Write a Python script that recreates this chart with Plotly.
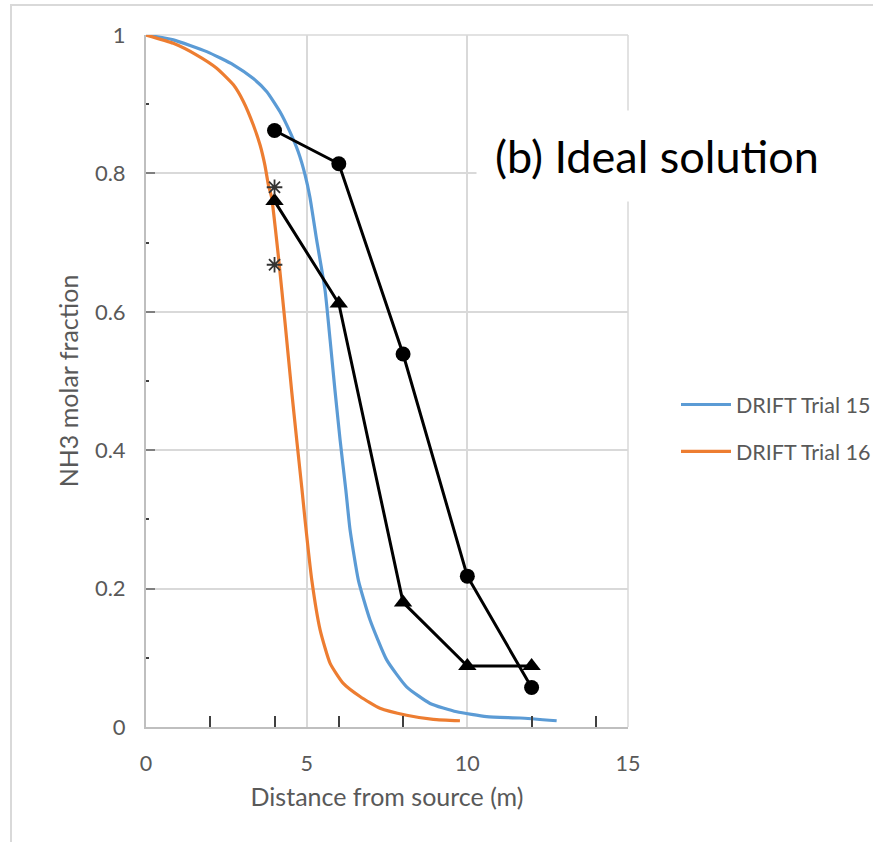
import plotly.graph_objects as go

# DRIFT model profiles (distance in m, NH3 molar fraction)
dist_15 = [0, 0.85, 1.89, 2.72, 3.34, 3.76, 4.17, 4.48, 4.74, 4.95, 5.10, 5.31, 5.57, 5.73,
           5.88, 6.04, 6.22, 6.35, 6.61, 6.97, 7.49, 8.11, 8.84, 9.67, 10.6, 11.64, 12.78]
frac_15 = [1.0, 0.993, 0.976, 0.957, 0.937, 0.918, 0.889, 0.860, 0.831, 0.798, 0.766, 0.704,
           0.632, 0.559, 0.487, 0.415, 0.342, 0.285, 0.212, 0.155, 0.097, 0.058, 0.034,
           0.022, 0.015, 0.013, 0.009]

dist_16 = [0, 0.85, 1.58, 2.20, 2.72, 3.03, 3.34, 3.55, 3.70, 3.81, 3.91, 4.12, 4.33, 4.53,
           4.69, 4.85, 4.95, 5.16, 5.42, 5.73, 6.14, 6.66, 7.28, 8.11, 8.94, 9.77]
frac_16 = [1.0, 0.988, 0.971, 0.952, 0.928, 0.904, 0.870, 0.841, 0.812, 0.783, 0.765, 0.680,
           0.583, 0.487, 0.415, 0.345, 0.299, 0.212, 0.140, 0.092, 0.063, 0.044, 0.027,
           0.017, 0.011, 0.009]

# Measured points
dist_obs = [4, 6, 8, 10, 12]
frac_circle = [0.862, 0.814, 0.539, 0.218, 0.057]
frac_triangle = [0.760, 0.612, 0.180, 0.088, 0.088]
dist_star = [4, 4]
frac_star = [0.780, 0.668]

FONT = "Lato"
GREY = "#595959"
GRID = "#d9d9d9"

fig = go.Figure()

fig.add_trace(go.Scatter(
    x=dist_15, y=frac_15, mode="lines", name="DRIFT Trial 15",
    line=dict(color="#5B9BD5", width=3.2, shape="spline", smoothing=0.5),
    legendgroup="a"))
fig.add_trace(go.Scatter(
    x=dist_16, y=frac_16, mode="lines", name="DRIFT Trial 16",
    line=dict(color="#ED7D31", width=3.2, shape="spline", smoothing=0.5),
    legendgroup="b"))

fig.add_trace(go.Scatter(
    x=dist_obs, y=frac_circle, mode="lines+markers", showlegend=False,
    line=dict(color="black", width=3),
    marker=dict(symbol="circle", size=15, color="black")))
fig.add_trace(go.Scatter(
    x=dist_obs, y=frac_triangle, mode="lines+markers", showlegend=False,
    line=dict(color="black", width=3),
    marker=dict(symbol="triangle-up", size=16, color="black")))
fig.add_trace(go.Scatter(
    x=dist_star, y=frac_star, mode="markers", showlegend=False,
    marker=dict(symbol="asterisk-open", size=13, color="#333333",
                line=dict(color="#333333", width=1.8))))

# plot-area pixel geometry: x 146..628, y 35..727
L, R, T, B = 146, 628, 35, 727
W, H = 873, 842


def px_x(p):
    return (p - L) / (R - L)


def px_y(p):
    return (B - p) / (B - T)


shapes = [
    # outer frame
    dict(type="rect", xref="paper", yref="paper", x0=px_x(11), x1=px_x(900),
         y0=px_y(900), y1=px_y(5), line=dict(color=GRID, width=2), layer="below"),
    # top and right borders of the plot area
    dict(type="line", xref="paper", yref="paper", x0=0, x1=1, y0=1, y1=1,
         line=dict(color=GRID, width=1.5), layer="below"),
    dict(type="line", xref="paper", yref="paper", x0=1, x1=1, y0=0, y1=1,
         line=dict(color=GRID, width=1.5), layer="below"),
]

fig.update_layout(
    width=W, height=H,
    margin=dict(l=L, r=W - R, t=T, b=H - B, autoexpand=False),
    paper_bgcolor="white", plot_bgcolor="white",
    font=dict(family=FONT, color=GREY, size=20),
    shapes=shapes,
    showlegend=True,
    legend=dict(x=px_x(676), y=px_y(384), xanchor="left", yanchor="top",
                font=dict(family=FONT, size=21.5, color=GREY),
                tracegroupgap=16, itemwidth=50, bgcolor="rgba(0,0,0,0)"),
    annotations=[dict(
        text="(b) Ideal solution", xref="paper", yref="paper",
        x=px_x(657), y=px_y(156), xanchor="center", yanchor="middle",
        showarrow=False, font=dict(family=FONT, size=45, color="black"),
        bgcolor="white", borderpad=18)],
)

fig.update_xaxes(
    range=[0, 15], dtick=5, tick0=0,
    showgrid=True, gridcolor=GRID, gridwidth=1.5,
    zeroline=False, showline=True, linecolor="#bfbfbf", linewidth=2,
    ticks="", ticklabelstandoff=16,
    tickfont=dict(family=FONT, size=21.5, color=GREY),
    minor=dict(tickvals=[2, 4, 6, 8, 12, 14], ticks="inside", ticklen=11,
               tickwidth=2, tickcolor="#404040", showgrid=False),
    title=dict(text="Distance from source (m)", standoff=14,
               font=dict(family=FONT, size=25, color=GREY)),
)
fig.update_yaxes(
    range=[0, 1], dtick=0.2, tick0=0,
    showgrid=True, gridcolor=GRID, gridwidth=1.5,
    zeroline=False, showline=True, linecolor="#bfbfbf", linewidth=2,
    ticks="inside", ticklen=9, tickwidth=2, tickcolor="#7f7f7f",
    ticklabelstandoff=14,
    tickfont=dict(family=FONT, size=22, color=GREY),
    minor=dict(dtick=0.2, tick0=0.1, ticks="inside", ticklen=3,
               tickwidth=2, tickcolor="#404040", showgrid=False),
    title=dict(text="NH3 molar fraction", standoff=9,
               font=dict(family=FONT, size=25, color=GREY)),
)

fig.write_html("out.html")
